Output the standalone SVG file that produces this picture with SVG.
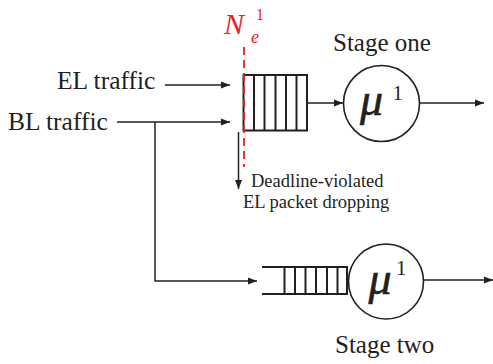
<svg xmlns="http://www.w3.org/2000/svg" width="493" height="364" viewBox="0 0 493 364">
  <style>
    .ln { stroke: #231f20; stroke-width: 1.5; fill: none; }
    .box { stroke: #231f20; stroke-width: 2; fill: none; }
    .srv { stroke: #231f20; stroke-width: 1.6; fill: #ffffff; }
    .lbl { font-family: "Liberation Serif", "Times New Roman", serif; fill: #231f20; }
    .mu { font-family: "Liberation Serif", "Times New Roman", serif; font-style: italic; fill: #231f20; stroke: #231f20; stroke-width: 0.6; }
    .red { font-family: "Liberation Serif", "Times New Roman", serif; fill: #ed1c24; }
  </style>
  <defs>
    <marker id="arr" markerUnits="userSpaceOnUse" markerWidth="10" markerHeight="8" refX="9" refY="4" orient="auto">
      <path d="M0,0.5 L9,4 L0,7.5 Z" fill="#231f20"/>
    </marker>
  </defs>

  <rect width="493" height="364" fill="#ffffff"/>

  <!-- connectors -->
  <g id="connectors">
    <line class="ln" x1="165" y1="85" x2="230" y2="85" marker-end="url(#arr)"/>
    <line class="ln" x1="117" y1="122" x2="230" y2="122" marker-end="url(#arr)"/>
    <polyline class="ln" points="155,122 155,281 257,281" marker-end="url(#arr)"/>
    <line class="ln" x1="238.5" y1="132" x2="238.5" y2="189" marker-end="url(#arr)"/>
    <line class="ln" x1="307" y1="103" x2="343" y2="103" marker-end="url(#arr)"/>
    <line class="ln" x1="420" y1="103" x2="484" y2="103" marker-end="url(#arr)"/>
    <line class="ln" x1="424" y1="280" x2="493" y2="280" marker-end="url(#arr)"/>
  </g>

  <!-- input labels -->
  <g id="el-traffic">
    <text class="lbl" x="57" y="89" font-size="25.5">EL traffic</text>
  </g>
  <g id="bl-traffic">
    <text class="lbl" x="8" y="130" font-size="25.5">BL traffic</text>
  </g>

  <!-- stage one buffer -->
  <g id="queue-one">
    <rect class="box" x="243.5" y="75" width="63.5" height="55.5"/>
    <line class="box" x1="254" y1="75" x2="254" y2="130.5"/>
    <line class="box" x1="264.5" y1="75" x2="264.5" y2="130.5"/>
    <line class="box" x1="275.5" y1="75" x2="275.5" y2="130.5"/>
    <line class="box" x1="286" y1="75" x2="286" y2="130.5"/>
    <line class="box" x1="296.5" y1="75" x2="296.5" y2="130.5"/>
  </g>

  <!-- EL threshold -->
  <g id="threshold">
    <line x1="244" y1="47" x2="244" y2="167" stroke="#ed1c24" stroke-width="1.8" stroke-dasharray="8,5"/>
    <text class="red" x="224" y="34" font-size="30" font-style="italic">N</text>
    <text class="red" x="251" y="43" font-size="18" font-style="italic">e</text>
    <text class="red" x="256" y="20" font-size="16">1</text>
  </g>

  <!-- stage one server -->
  <g id="server-one">
    <circle class="srv" cx="381.5" cy="103.5" r="38"/>
    <text class="mu" x="360" y="115" font-size="46">μ</text>
    <text class="lbl" x="392.5" y="100" font-size="21">1</text>
    <text class="lbl" x="333" y="51" font-size="25">Stage one</text>
  </g>

  <!-- dropping note -->
  <g id="drop-note">
    <text class="lbl" x="251" y="187" font-size="18.5">Deadline-violated</text>
    <text class="lbl" x="243" y="208" font-size="18.5">EL packet dropping</text>
  </g>

  <!-- stage two buffer -->
  <g id="queue-two">
    <line class="box" x1="262" y1="267" x2="348" y2="267"/>
    <line class="box" x1="262" y1="294" x2="348" y2="294"/>
    <line class="box" x1="284.5" y1="267" x2="284.5" y2="294"/>
    <line class="box" x1="295" y1="267" x2="295" y2="294"/>
    <line class="box" x1="305.5" y1="267" x2="305.5" y2="294"/>
    <line class="box" x1="316" y1="267" x2="316" y2="294"/>
    <line class="box" x1="327" y1="267" x2="327" y2="294"/>
    <line class="box" x1="337.5" y1="267" x2="337.5" y2="294"/>
    <line class="box" x1="347" y1="267" x2="347" y2="294"/>
  </g>

  <!-- stage two server -->
  <g id="server-two">
    <circle class="srv" cx="386" cy="281.5" r="37.5"/>
    <text class="mu" x="368.5" y="294" font-size="46">μ</text>
    <text class="lbl" x="396" y="275" font-size="21">1</text>
    <text class="lbl" x="335" y="353" font-size="25">Stage two</text>
  </g>
</svg>
